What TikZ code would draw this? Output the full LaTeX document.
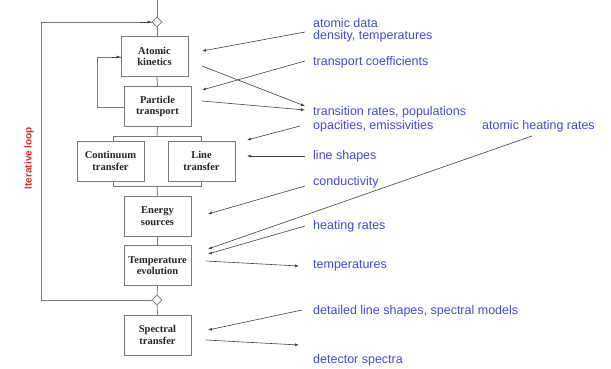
\documentclass[tikz,border=0pt]{standalone}
\usepackage{fontspec}
\setmainfont{Liberation Serif}
\setsansfont{Liberation Sans}
\usetikzlibrary{arrows.meta,shapes.geometric}
\definecolor{lbl}{RGB}{70,70,225}
\definecolor{lgray}{RGB}{120,120,120}
\definecolor{loopred}{RGB}{225,40,40}
\begin{document}
\begin{tikzpicture}[x=1pt,y=-1pt,
  box/.style={draw=lgray,line width=0.8pt,fill=white,minimum width=67pt,minimum height=40pt,inner sep=1pt,align=center,font=\rmfamily\bfseries\fontsize{10.5}{11.5}\selectfont,text=black!85},
  lab/.style={anchor=west,inner sep=0pt,text=lbl,font=\sffamily\fontsize{12.5}{14}\selectfont},
  conn/.style={draw=lgray,line width=0.8pt},
  arr/.style={draw=black!75,line width=0.6pt,-{Latex[length=4pt,width=3pt]}},
  dia/.style={diamond,draw=lgray,line width=0.8pt,fill=white,minimum width=10pt,minimum height=10pt,inner sep=0pt}
]
\useasboundingbox (0,0) rectangle (611,368);
% boxes
\node[box] (ak) at (154.5,56.5) {Atomic\\kinetics};
\node[box] (pt) at (157.5,106.5) {Particle\\transport};
\node[box] (ct) at (110.5,161) {Continuum\\transfer};
\node[box] (lt) at (201.5,161) {Line\\transfer};
\node[box] (es) at (157.5,216) {Energy\\sources};
\node[box] (te) at (157.5,265.5) {Temperature\\evolution};
\node[box] (st) at (157.5,335) {Spectral\\transfer};
\node[dia] (d1) at (157,22) {};
\node[dia] (d2) at (157,300) {};
\coordinate (top) at (157,0);
\coordinate (bl) at (113,136);
\coordinate (br) at (201,136);
\coordinate (bl2) at (113,186);
\coordinate (br2) at (201,186);
\coordinate (lt1) at (41,22);
\coordinate (lb1) at (41,300);
\coordinate (fb1) at (97,107);
\coordinate (fb2) at (97,57);
% spine
\draw[conn] (top) -- (d1);
\draw[conn] (d1) -- (d1 |- ak.north);
\draw[conn] (ak.south -| 157,0) -- (pt.north);
\draw[conn] (pt.south) -- (157,136);
\draw[conn] (bl) -- (br);
\draw[conn] (bl) -- (bl |- ct.north);
\draw[conn] (br) -- (br |- lt.north);
\draw[conn] (bl2 |- ct.south) -- (bl2) -- (br2) -- (br2 |- lt.south);
\draw[conn] (157,186) -- (es.north);
\draw[conn] (es.south) -- (te.north);
\draw[conn] (te.south) -- (d2);
\draw[conn] (d2) -- (st.north);
% iterative loop
\draw[conn] (d2) -- (lb1) -- (lt1) -- (d1.west);
\draw[black!75,line width=0.6pt,-{Latex[length=4pt,width=3pt]}] (140,22) -- (d1.west);
% feedback
\draw[conn] (pt.west |- fb1) -- (fb1) -- (fb2) -- (ak.west |- fb2);
\draw[black!75,line width=0.6pt,-{Latex[length=4pt,width=3pt]}] (112,57) -- (ak.west |- fb2);
\node[rotate=90,text=loopred,font=\sffamily\bfseries\fontsize{10}{11}\selectfont,inner sep=0pt] (il) at (29,158) {Iterative loop};
% labels
\node[lab] (l1) at (313,23) {atomic data};
\node[lab] (l2) at (313,36) {density, temperatures};
\node[lab] (l3) at (313,62) {transport coefficients};
\node[lab] (l4) at (313,112) {transition rates, populations};
\node[lab] (l5) at (313,126) {opacities, emissivities};
\node[lab] (l6) at (482,126) {atomic heating rates};
\node[lab] (l7) at (313,156) {line shapes};
\node[lab] (l8) at (313,182) {conductivity};
\node[lab] (l9) at (313,226) {heating rates};
\node[lab] (l10) at (313,266) {temperatures};
\node[lab] (l11) at (313,311) {detailed line shapes, spectral models};
\node[lab] (l12) at (313,360) {detector spectra};
% arrows
\coordinate (a1s) at (305,32); \coordinate (a1e) at (202,51);
\coordinate (a2s) at (305,61); \coordinate (a2e) at (202,90);
\coordinate (a3s) at (202,66); \coordinate (a3e) at (305,106);
\coordinate (a4s) at (202,101); \coordinate (a4e) at (305,110);
\coordinate (a5s) at (300,126); \coordinate (a5e) at (247,140);
\coordinate (a6s) at (305,156); \coordinate (a6e) at (247,156);
\coordinate (a7s) at (532,136); \coordinate (a7e) at (208,249);
\coordinate (a8s) at (305,186); \coordinate (a8e) at (208,214);
\coordinate (a9s) at (305,226); \coordinate (a9e) at (208,254);
\coordinate (a10s) at (206,261); \coordinate (a10e) at (299,266);
\coordinate (a11s) at (302,310); \coordinate (a11e) at (208,330);
\coordinate (a12s) at (206,340); \coordinate (a12e) at (299,345);
\foreach \i in {1,...,12} {\draw[arr] (a\i s) -- (a\i e);}
\end{tikzpicture}
\end{document}
